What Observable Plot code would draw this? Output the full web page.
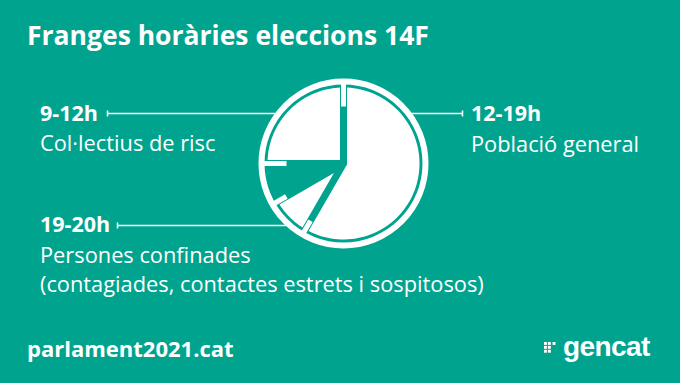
<!DOCTYPE html>
<html><head><meta charset="utf-8">
<script src="https://cdn.jsdelivr.net/npm/d3@7"></script>
<script src="https://cdn.jsdelivr.net/npm/@observablehq/plot@0.6"></script>
<style>
html,body{margin:0;padding:0;background:#00a48e;}
#card{position:relative;width:680px;height:383px;background:#00a48e;overflow:hidden;font-family:"Open Sans",sans-serif;color:#fff;}
.t{position:absolute;white-space:nowrap;line-height:1;margin:0;}
#plot{position:absolute;left:0;top:0;}
#plot svg{display:block;}
</style></head>
<body>
<div id="card">
  <div id="plot"></div>
</div>
<script>
// ---- data ----
const ranges = ["9-12h", "12-19h", "19-20h"];
const startHour = [9, 12, 19];
const endHour = [12, 19, 20];
const groups = [["Col·lectius de risc"], ["Població general"], ["Persones confinades", "(contagiades, contactes estrets i sospitosos)"]];
const title = "Franges horàries eleccions 14F";
const source = "parlament2021.cat";
const brand = "gencat";

// ---- layout ----
const W = 680, H = 383, CX = 343, CY = 163, R = 85;   // clock centre / ring outer radius (px)
const ringW = 6, sliceR = 76, halfGap = 3.5, tickW = 5, longTickIn = 57, shortTickIn = 66;
const labelPos = [ // left x, baseline of range line (px), side, leader y, leader end x
  {x: 40, base: 121, side: "left", lineY: 113, lineEnd: 107},
  {x: 471, base: 121.5, side: "right", lineY: 113, lineEnd: 462},
  {x: 40, base: 232.5, side: "left", lineY: 225, lineEnd: 117}
];

const card = document.getElementById("card");
function addText(txt, left, baseline, size, weight, family, ascent) {
  const el = document.createElement("div");
  el.className = "t";
  el.textContent = txt;
  el.style.left = left + "px";
  el.style.fontSize = size + "px";
  el.style.fontWeight = weight;
  if (family) el.style.fontFamily = family;
  el.style.top = (baseline - size * (ascent || 0.888)) + "px";
  card.appendChild(el);
  return el;
}
addText(title, 27, 46, 26.5, 700);
ranges.forEach((r, i) => {
  const p = labelPos[i];
  addText(r, p.x, p.base, 21.5, 700);
  groups[i].forEach((g, j) => addText(g, p.x, p.base + 30.5 + j * 29, 21.8, 400));
});
addText(source, 27, 357, 22, 700);
addText(brand, 563, 357, 28, 700, "'Liberation Sans', Arial, sans-serif", 0.846).style.letterSpacing = "-0.6px";

// gencat dots icon
const icon = document.createElementNS("http://www.w3.org/2000/svg", "svg");
icon.setAttribute("width", 15); icon.setAttribute("height", 13);
icon.style.position = "absolute"; icon.style.left = "544px"; icon.style.top = "342px";
[[0,0],[0,1],[0,2],[1,0],[1,1],[1,2],[2.2,0]].forEach(([c, r]) => {
  const q = document.createElementNS("http://www.w3.org/2000/svg", "rect");
  q.setAttribute("x", c * 3.9); q.setAttribute("y", r * 3.9);
  q.setAttribute("width", 2.9); q.setAttribute("height", 2.9); q.setAttribute("fill", "#fff");
  icon.appendChild(q);
});
card.appendChild(icon);

// ---- geometry in clock units (1 = ring outer radius) ----
const u = th => [Math.sin(th), Math.cos(th)];
const hourAngle = d3.scaleLinear().domain([0, 12]).range([0, 2 * Math.PI]);
const d = halfGap / R, rs = sliceR / R;
const slicePts = [];
ranges.forEach((name, i) => {
  const h0 = startHour[i] % 12, h1 = h0 + (endHour[i] - startHour[i]);
  const t0 = hourAngle(h0), t1 = hourAngle(h1);
  const n0 = u(t0 + Math.PI / 2), n1 = u(t1 - Math.PI / 2);
  const dot = n0[0] * n1[0] + n0[1] * n1[1];
  const apex = [d * (n0[0] + n1[0]) / (1 + dot), d * (n0[1] + n1[1]) / (1 + dot)];
  const off = Math.asin(d / rs);
  const a0 = t0 + off, a1 = t1 - off, n = 80;
  slicePts.push({name, x: apex[0], y: apex[1]});
  for (let k = 0; k <= n; k++) {
    const a = a0 + (a1 - a0) * k / n;
    slicePts.push({name, x: rs * Math.sin(a), y: rs * Math.cos(a)});
  }
});
const boundaries = Array.from(new Set(ranges.flatMap((_, i) => [startHour[i] % 12, endHour[i] % 12])));
const ticks = boundaries.map(h => {
  const [sx, sy] = u(hourAngle(h));
  const rin = (h % 3 === 0 ? longTickIn : shortTickIn) / R, rout = (R - ringW + 0.5) / R;
  return {h, x1: rin * sx, y1: rin * sy, x2: rout * sx, y2: rout * sy};
});
const leaders = labelPos.map(p => {
  const yu = (CY - p.lineY) / R;
  const xc = Math.sqrt(1 - yu * yu) - 0.01;
  const xe = (p.lineEnd - CX) / R;
  return {y: yu, x1: p.side === "left" ? xe : xc, x2: p.side === "left" ? -xc : xe, xe};
});
const capH = 3 / R;

const plot = Plot.plot({
  width: W, height: H, margin: 0,
  x: {domain: [-CX / R, (W - CX) / R]},
  y: {domain: [(CY - H) / R, CY / R]},
  axis: null,
  style: {background: "transparent"},
  marks: [
    Plot.link(leaders, {x1: "x1", x2: "x2", y1: "y", y2: "y", stroke: "white", strokeWidth: 1.5}),
    Plot.link(leaders, {x1: "xe", x2: "xe", y1: d => d.y - capH, y2: d => d.y + capH, stroke: "white", strokeWidth: 1.5}),
    Plot.dot([{x: 0, y: 0}], {x: "x", y: "y", r: R - ringW / 2, stroke: "white", strokeWidth: ringW, fill: "#00a48e"}),
    Plot.line(slicePts, {x: "x", y: "y", z: "name", fill: "white", stroke: "none", curve: "linear-closed"}),
    Plot.link(ticks, {x1: "x1", y1: "y1", x2: "x2", y2: "y2", stroke: "white", strokeWidth: tickW, strokeLinecap: "butt"})
  ]
});
document.getElementById("plot").appendChild(plot);
</script>
</body></html>
